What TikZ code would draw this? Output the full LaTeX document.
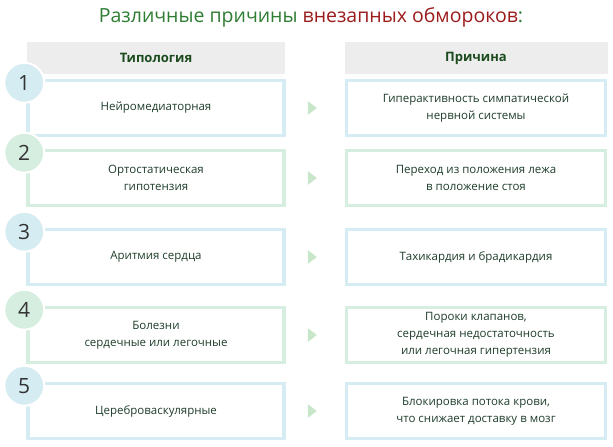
\documentclass[tikz,border=0pt]{standalone}
\usepackage{fontspec}
\setmainfont{Open Sans}
\definecolor{ttlgreen}{HTML}{2E7D32}
\definecolor{ttlred}{HTML}{9B1B1B}
\definecolor{txt}{HTML}{1E3D2A}
\definecolor{hdrgray}{HTML}{EDEDED}
\definecolor{rowblue}{HTML}{D6ECF3}
\definecolor{rowgreen}{HTML}{D6EEE0}
\definecolor{arrgreen}{HTML}{C8E6C9}
\tikzset{
  hdr/.style={fill=hdrgray, minimum height=32pt, font=\fontsize{13}{15}\selectfont\bfseries, text=ttlgreen!60!black},
  cell/.style={draw=#1, line width=3.5pt, fill=white, minimum height=55pt, align=center, text=txt, font=\fontsize{11.5}{17}\selectfont},
  num/.style={circle, fill=#1, draw=white, line width=2pt, minimum size=40pt, font=\fontsize{21}{21}\selectfont, text=black!80},
  tip/.style={fill=arrgreen, draw=none}
}
\begin{document}
\begin{tikzpicture}[x=1pt, y=-1pt]
    \useasboundingbox (0,0) rectangle (613,447);
    % заголовок
    \node (title) at (311,17) {\fontsize{19.5}{22}\selectfont\color{ttlgreen}Различные причины \color{ttlred}внезапных обмороков\color{ttlgreen}:};
    \node[hdr, minimum width=258pt] (hl) at (156,58) {Типология};
    \node[hdr, minimum width=263pt] (hr) at (476,58) {Причина};

    % строки
    \foreach \i/\y/\col/\a/\b in {
        1/108/rowblue/{Нейромедиаторная}/{Гиперактивность симпатической\\нервной системы},
        2/178/rowgreen/{Ортостатическая\\гипотензия}/{Переход из положения лежа\\в положение стоя},
        3/257/rowblue/{Аритмия сердца}/{Тахикардия и брадикардия},
        4/335/rowgreen/{Болезни\\сердечные или легочные}/{Пороки клапанов,\\сердечная недостаточность\\или легочная гипертензия},
        5/411/rowblue/{Цереброваскулярные}/{Блокировка потока крови,\\что снижает доставку в мозг}} {
        \node[cell=\col, minimum width=256pt] (l\i) at (156,\y) {\a};
        \node[cell=\col, minimum width=259pt] (r\i) at (476,\y) {\b};
        \node[num=\col, xshift=-2pt, yshift=-4pt] (n\i) at (l\i.north west) {\i};
        \fill[tip] ([xshift=22pt]l\i.east) ++(0,-7) -- ++(9,7) -- ++(-9,7) -- cycle;
    }
\end{tikzpicture}
\end{document}
